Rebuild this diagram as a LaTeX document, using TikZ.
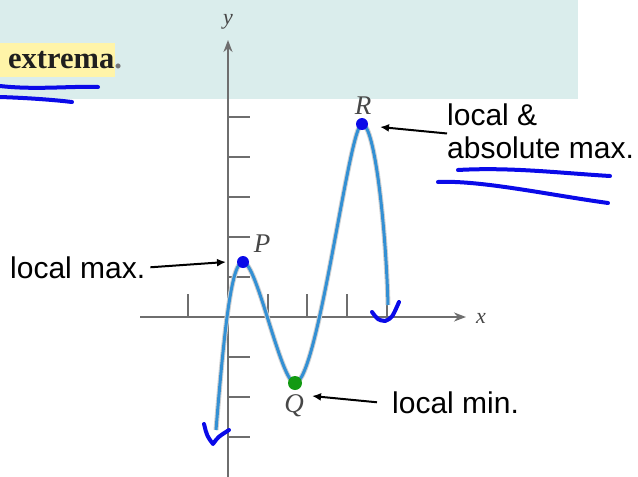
\documentclass[tikz,border=0pt]{standalone}
\usepackage{fontspec}
\setmainfont{Liberation Sans}
\newfontfamily\serifface{Liberation Serif}
\usetikzlibrary{arrows.meta}
\definecolor{bgteal}{HTML}{DAEDEC}
\definecolor{hl}{HTML}{FFF4A8}
\definecolor{ink}{HTML}{0A0AE8}
\definecolor{curveblue}{HTML}{3390D4}
\definecolor{axisgray}{HTML}{6E6E6E}
\definecolor{dotgreen}{HTML}{129A12}
\begin{document}
\begin{tikzpicture}[x=1pt,y=-1pt,
  axis/.style={draw=axisgray,line width=2.4pt},
  tickmark/.style={draw=axisgray,line width=2.4pt},
  pen/.style={draw=ink,line width=4pt,line cap=round,line join=round},
  note/.style={font=\fontsize{30}{34}\selectfont,inner sep=0pt,text=black},
  ptlabel/.style={font=\serifface\itshape\fontsize{27}{29}\selectfont,text=black!72,inner sep=0pt},
  axlabel/.style={font=\serifface\itshape\fontsize{22}{24}\selectfont,text=black!72,inner sep=0pt},
  pointer/.style={draw=black,line width=2pt,-{Latex[length=9pt,width=8pt]}},
]
\useasboundingbox (0,0) rectangle (638,477);
% top band
\fill[bgteal] (0,0) rectangle (578,99);
\fill[hl] (0,43) rectangle (115,77);
\node[anchor=base west,inner sep=0pt,font=\serifface\bfseries\fontsize{30.5}{34}\selectfont,text=black!88] (ext) at (8,68) {extrema\textcolor{black!55}{.}};
\draw[pen] (0,86) .. controls (35,90) and (70,86) .. (98,87);
\draw[pen] (0,97) .. controls (30,98) and (55,100) .. (72,102);

% axes
\coordinate (ybot) at (228,477);
\coordinate (ytop) at (228,40);
\coordinate (xleft) at (140,317);
\coordinate (xright) at (466,317);
\draw[axis,-{Stealth[length=12pt,width=9pt]}] (ybot) -- (ytop);
\draw[axis,-{Stealth[length=12pt,width=9pt]}] (xleft) -- (xright);
\node[axlabel] (ylab) at (228,22) {y};
\node[axlabel] (xlab) at (481,318) {x};
\foreach \yy in {117,157,197,237,277,357,397,437}
  \draw[tickmark] (228,\yy) -- (250,\yy);
\foreach \xx in {188,268,307,347,387}
  \draw[tickmark] (\xx,317) -- (\xx,294);

% curve
\coordinate (start) at (216,430);
\coordinate (P) at (243,262);
\coordinate (Q) at (295,383);
\coordinate (R) at (362,124);
\coordinate (finish) at (388,305);
\draw[draw=curveblue,line width=3pt,preaction={draw=black!18,line width=5pt}]
  (start) .. controls (225,320) and (232,262) .. (P)
  .. controls (257,262) and (281,383) .. (Q)
  .. controls (318,383) and (349,124) .. (R)
  .. controls (375,124) and (386,230) .. (finish);
\fill[ink] (P) circle[radius=6pt];
\fill[ink] (R) circle[radius=6pt];
\fill[dotgreen] (Q) circle[radius=7pt];
\node[ptlabel] (Plab) at (262,244) {P};
\node[ptlabel] (Rlab) at (363,106) {R};
\node[ptlabel] (Qlab) at (294,406) {Q};

% hand-drawn checks
\draw[pen] (204,424) .. controls (207,436) .. (213,444) .. controls (218,437) .. (229,430);
\draw[pen] (372,312) .. controls (378,320) .. (385,321) .. controls (392,318) .. (399,302);

% annotations
\coordinate (Ptip) at (226,262);
\coordinate (Qtip) at (312,396);
\coordinate (Rtip) at (380,127);
\node[note,anchor=base west] (lmax) at (10,278) {local max.};
\node[note,anchor=base west] (lmin) at (392,413) {local min.};
\node[note,anchor=base west] (abs1) at (447,125) {local \&};
\node[note,anchor=base west] (abs2) at (447,158) {absolute max.};
\draw[pointer] ([xshift=5pt]lmax.east) -- (Ptip);
\draw[pointer] ([xshift=-15pt]lmin.west) -- (Qtip);
\draw[pointer] ([yshift=-8pt]abs1.south west) -- (Rtip);
\draw[pen] (458,170) .. controls (510,167) and (560,173) .. (610,176);
\draw[pen] (438,182) .. controls (480,180) and (550,195) .. (608,203);
\end{tikzpicture}
\end{document}
